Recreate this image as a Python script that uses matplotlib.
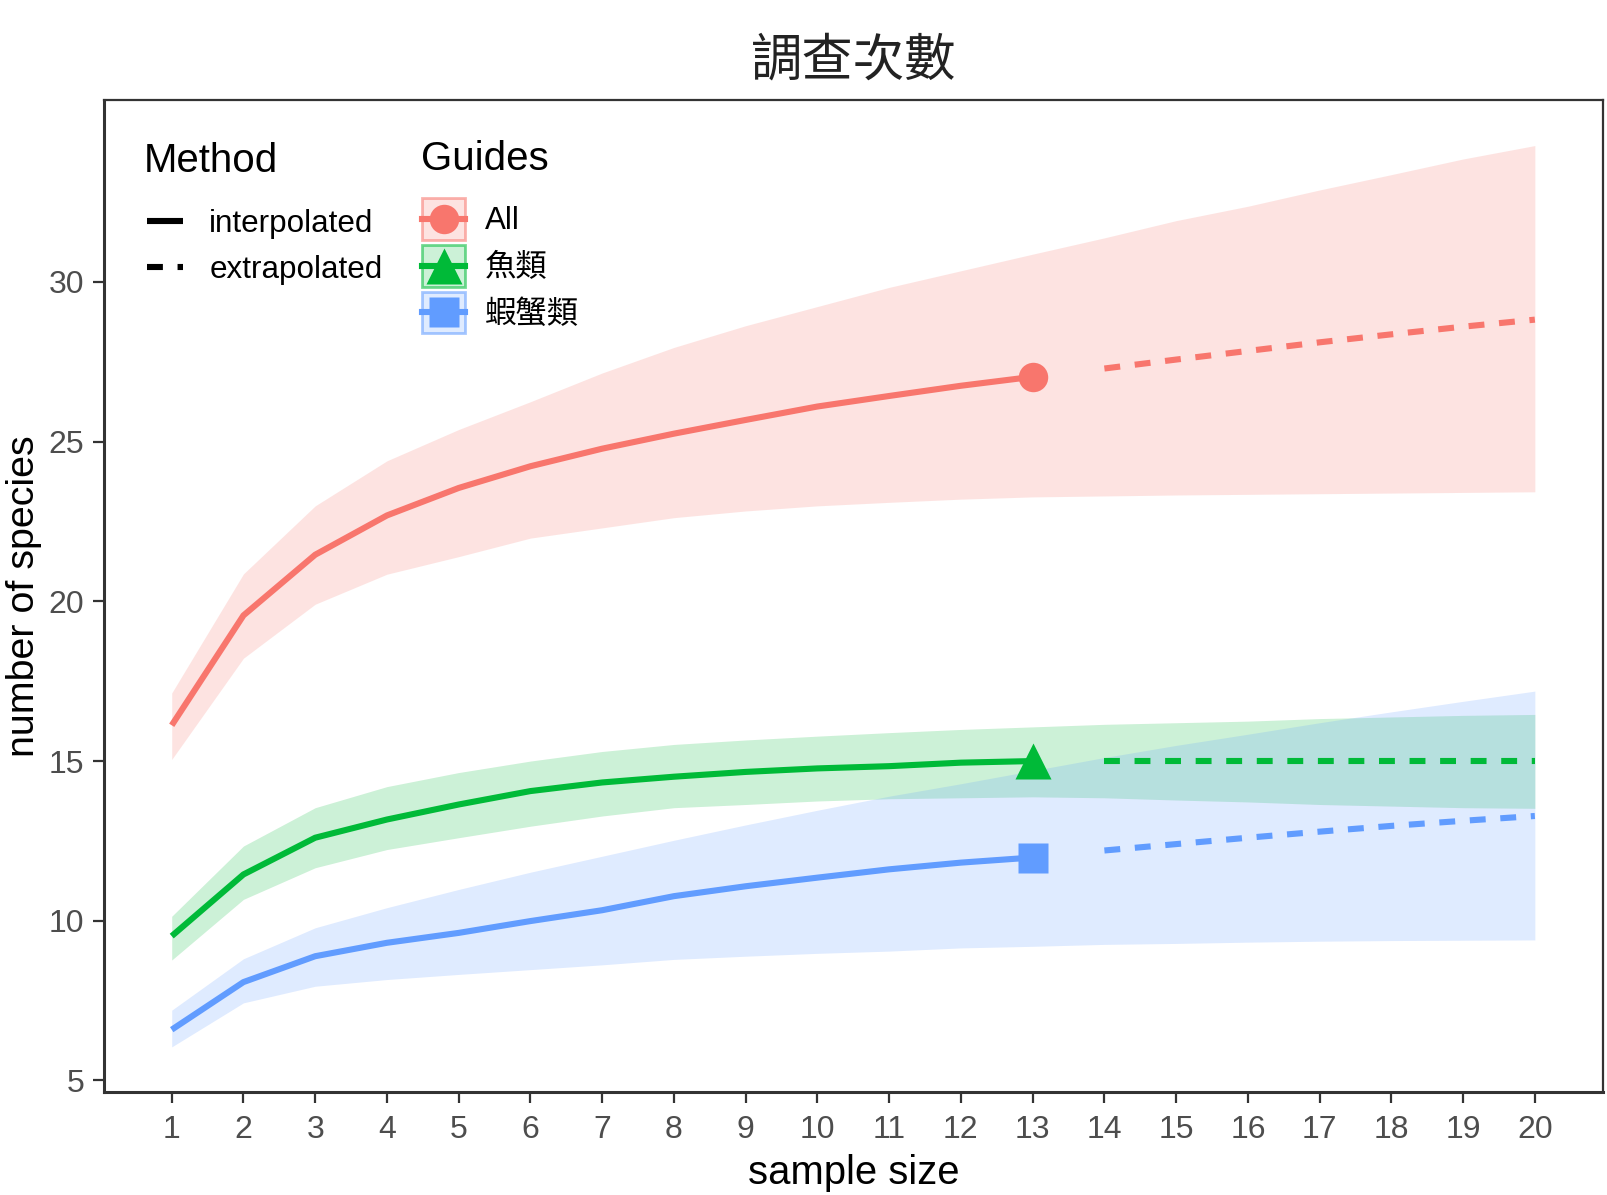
import matplotlib
matplotlib.use("Agg")
import matplotlib.pyplot as plt
from matplotlib.lines import Line2D
from matplotlib.patches import Rectangle
from matplotlib.colors import to_rgba

plt.rcParams['font.family'] = ['Liberation Sans', 'Noto Sans CJK TC', 'DejaVu Sans']

# sample size (number of surveys)
sample_size = list(range(1, 21))
n_observed = 13   # last interpolated point, extrapolation after it

guides = ['All', '魚類', '蝦蟹類']
colors = ['#F8766D', '#00BA38', '#619CFF']
markers = ['o', '^', 's']

# estimated species richness, lower / upper 95% bounds
all_est = [16.12, 19.56, 21.46, 22.69, 23.55, 24.23, 24.78, 25.25, 25.68, 26.10,
           26.43, 26.75, 27.03, 27.29, 27.57, 27.84, 28.11, 28.36, 28.60, 28.82]
all_lo = [15.05, 18.22, 19.91, 20.85, 21.40, 21.98, 22.30, 22.62, 22.83, 22.99,
          23.10, 23.20, 23.27, 23.30, 23.33, 23.35, 23.37, 23.39, 23.41, 23.43]
all_hi = [17.13, 20.86, 22.99, 24.40, 25.38, 26.25, 27.15, 27.95, 28.63, 29.23,
          29.83, 30.35, 30.87, 31.38, 31.92, 32.37, 32.88, 33.36, 33.85, 34.27]

fish_est = [9.52, 11.45, 12.60, 13.17, 13.64, 14.06, 14.33, 14.51, 14.66, 14.77,
            14.84, 14.95, 15.00, 15.00, 15.00, 15.00, 15.00, 15.00, 15.00, 15.00]
fish_lo = [8.77, 10.67, 11.66, 12.23, 12.60, 12.96, 13.28, 13.54, 13.64, 13.75,
           13.82, 13.85, 13.88, 13.85, 13.78, 13.72, 13.64, 13.59, 13.54, 13.52]
fish_hi = [10.14, 12.34, 13.54, 14.20, 14.64, 15.00, 15.30, 15.52, 15.66, 15.78,
           15.89, 15.99, 16.07, 16.15, 16.20, 16.25, 16.33, 16.38, 16.43, 16.46]

crab_est = [6.59, 8.08, 8.89, 9.31, 9.62, 9.99, 10.33, 10.77, 11.08, 11.35,
            11.61, 11.82, 11.98, 12.20, 12.40, 12.60, 12.79, 12.97, 13.13, 13.28]
crab_lo = [6.05, 7.43, 7.95, 8.16, 8.32, 8.47, 8.62, 8.79, 8.89, 8.98,
           9.05, 9.15, 9.20, 9.26, 9.29, 9.33, 9.36, 9.38, 9.39, 9.40]
crab_hi = [7.20, 8.81, 9.78, 10.41, 10.98, 11.52, 12.02, 12.52, 13.00, 13.46,
           13.90, 14.29, 14.70, 15.11, 15.49, 15.84, 16.20, 16.54, 16.87, 17.19]

series_est = [all_est, fish_est, crab_est]
series_lo = [all_lo, fish_lo, crab_lo]
series_hi = [all_hi, fish_hi, crab_hi]

LW = 2.2
DASH = (0, (2.6, 2.4))
marker_size = {'o': 10.6, '^': 13, 's': 10.8}

fig = plt.figure(figsize=(8.04, 5.975), dpi=200)
ax = fig.add_axes([0.0644, 0.0862, 0.9325, 0.8297])

# ribbons first so every line sits on top
for c, lo, hi in zip(colors, series_lo, series_hi):
    ax.fill_between(sample_size, lo, hi, color=c, alpha=0.2, linewidth=0)

k = n_observed
for c, m, est in zip(colors, markers, series_est):
    ax.plot(sample_size[:k], est[:k], color=c, lw=LW, solid_capstyle='butt')
    ax.plot(sample_size[k:], est[k:], color=c, lw=LW, linestyle=DASH)
    ax.plot(sample_size[k - 1], est[k - 1], marker=m, ms=marker_size[m],
            color=c, mec='none', ls='none')

ax.set_xlim(0.05, 20.95)
ymin = min(min(v) for v in series_lo)
ymax = max(max(v) for v in series_hi)
r = ymax - ymin
ax.set_ylim(ymin - 0.05 * r, ymax + 0.05 * r)
ax.set_xticks(sample_size)
ax.set_yticks([5, 10, 15, 20, 25, 30])

for s in ax.spines.values():
    s.set_color('#333333')
    s.set_linewidth(0.8)
ax.spines['bottom'].set_linewidth(1.1)
ax.spines['left'].set_linewidth(1.1)
ax.tick_params(axis='both', length=4, width=0.8, color='#333333',
               labelsize=11.5, labelcolor='#4D4D4D', pad=3)
ax.tick_params(axis='x', pad=4.2)

ax.set_xlabel('sample size', fontsize=14.4, labelpad=3.5)
ax.set_ylabel('number of species', fontsize=14.2, labelpad=2.5)
ax.set_title('調查次數', fontsize=18.5, color='#222222', pad=9,
             family=['Noto Sans CJK TC', 'DejaVu Sans'])


# legend keys: shaded box + line + marker, like the ggplot guide
class GuideKey:
    def __init__(self, color, marker):
        self.color = color
        self.marker = marker


class GuideKeyHandler:
    def legend_artist(self, legend, orig_handle, fontsize, handlebox):
        x0, y0 = -handlebox.xdescent, -handlebox.ydescent
        w, h = handlebox.width, handlebox.height
        tr = handlebox.get_transform()
        c = orig_handle.color
        box = Rectangle((x0, y0), w, h, facecolor=to_rgba(c, 0.2),
                        edgecolor=to_rgba(c, 0.55), lw=1.0, transform=tr)
        ln = Line2D([x0, x0 + w], [y0 + h / 2] * 2, color=c, lw=LW, transform=tr)
        mk = Line2D([x0 + w / 2], [y0 + h / 2], marker=orig_handle.marker,
                    ms=marker_size[orig_handle.marker], color=c, mec='none',
                    ls='none', transform=tr)
        handlebox.add_artist(box)
        handlebox.add_artist(ln)
        handlebox.add_artist(mk)
        return box


method_handles = [Line2D([], [], color='black', lw=LW, solid_capstyle='butt'),
                  Line2D([], [], color='black', lw=LW, linestyle=DASH)]
leg1 = ax.legend(method_handles, ['interpolated', 'extrapolated'],
                 loc='upper left', bbox_to_anchor=(0.0287, 0.8905),
                 frameon=False, fontsize=11.3, handlelength=1.15,
                 handletextpad=0.85, labelspacing=0.5, borderpad=0,
                 borderaxespad=0)
ax.add_artist(leg1)

guide_handles = [GuideKey(c, m) for c, m in zip(colors, markers)]
leg2 = ax.legend(guide_handles, guides, handler_map={GuideKey: GuideKeyHandler()},
                 loc='upper left', bbox_to_anchor=(0.2127, 0.9015),
                 frameon=False, fontsize=11.3, handlelength=1.34,
                 handleheight=1.68, handletextpad=0.65, labelspacing=0.15,
                 borderpad=0, borderaxespad=0)

ax.text(0.0267, 0.939, 'Method', transform=ax.transAxes, fontsize=14.5,
        ha='left', va='center')
ax.text(0.212, 0.941, 'Guides', transform=ax.transAxes, fontsize=14.5,
        ha='left', va='center')

fig.savefig('out.png', dpi=200)
